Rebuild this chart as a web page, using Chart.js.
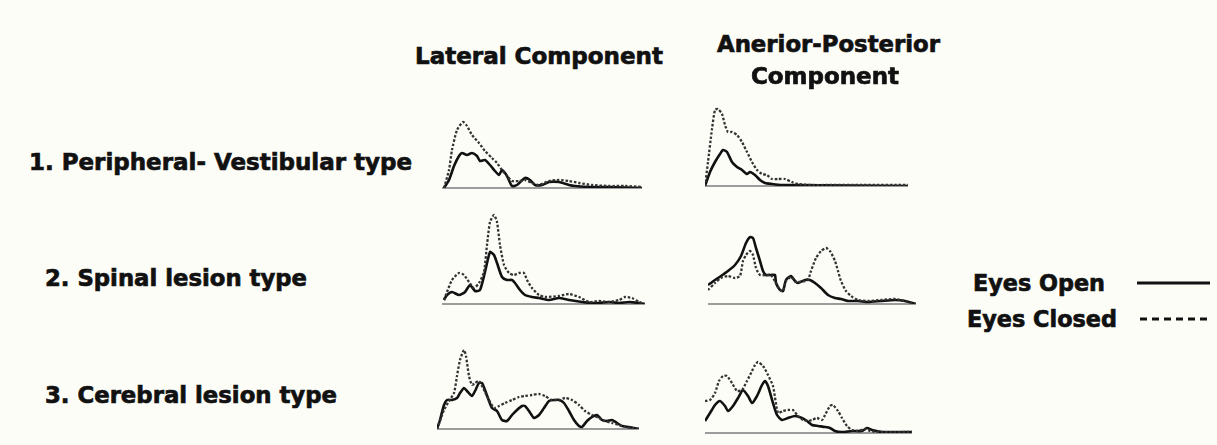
<!DOCTYPE html>
<html>
<head>
<meta charset="utf-8">
<script src="https://cdn.jsdelivr.net/npm/chart.js@4.4.1/dist/chart.umd.min.js"></script>
<style>
  html, body { margin: 0; padding: 0; background: #fdfdf8; }
  #stage { position: relative; width: 1217px; height: 445px; overflow: hidden; background: #fdfdf8; }
  .lbl { position: absolute; white-space: nowrap; font-family: "DejaVu Sans", sans-serif; font-weight: bold;
         font-size: 23px; line-height: normal; color: #111; transform-origin: 0 0;
         -webkit-text-stroke: 0.7px #111; }
  canvas.panel { position: absolute; }
  svg.key { position: absolute; }
</style>
</head>
<body>
<div id="stage"></div>
<script>
// Sway spectra: [frequency, amplitude] pairs for each component and lesion type
const lateralPeripheralOpen = [[2,0],[7,8],[12,22],[17,32],[20,35],[25,33],[30,35],[35,32],[38,27],[43,28],[48,23],[53,17],[57,13],[60,18],[65,12],[70,2],[75,3],[83,10],[88,8],[93,3],[100,3],[107,6],[117,6],[127,3],[133,2],[150,1],[167,1],[200,0]];
const lateralPeripheralClosed = [[2,0],[7,18],[10,38],[15,58],[21,66],[25,62],[30,53],[37,45],[43,37],[50,30],[55,25],[60,18],[65,12],[70,7],[77,7],[83,8],[90,5],[97,3],[107,7],[117,8],[127,7],[137,5],[150,3],[167,2],[183,2],[200,1]];

const apPeripheralOpen = [[0,0],[5,14],[10,24],[15,32],[18,36],[22,34],[27,24],[32,19],[37,16],[42,12],[45,14],[50,11],[55,6],[60,3],[67,2],[77,1],[90,1],[203,0]];
const apPeripheralClosed = [[0,0],[3,24],[7,57],[10,76],[13,77],[17,72],[20,61],[23,54],[27,54],[32,51],[37,44],[42,34],[47,24],[52,16],[57,12],[62,11],[67,7],[73,7],[80,7],[87,4],[93,2],[107,1],[123,1],[157,1],[203,1]];

const lateralSpinalOpen = [[2,4],[5,9],[10,12],[17,9],[23,12],[28,19],[33,13],[38,14],[43,32],[48,52],[52,49],[55,41],[60,27],[65,24],[70,24],[73,21],[78,14],[83,9],[90,7],[97,6],[107,4],[117,6],[127,4],[140,2],[150,1],[157,1],[167,2],[177,1],[187,2],[197,1],[203,0]];
const lateralSpinalClosed = [[2,4],[5,12],[10,24],[17,31],[22,29],[27,22],[32,16],[37,21],[42,32],[45,59],[48,82],[52,89],[55,82],[58,59],[62,39],[67,31],[72,29],[77,31],[82,31],[85,24],[90,16],[97,9],[103,7],[117,8],[127,10],[137,7],[147,2],[157,3],[167,2],[177,4],[183,7],[190,6],[197,2],[203,0]];

const apSpinalOpen = [[0,19],[7,24],[13,28],[20,33],[27,39],[33,48],[38,61],[42,67],[45,66],[48,56],[52,43],[55,33],[58,29],[63,29],[67,29],[68,21],[72,14],[75,13],[78,24],[83,28],[87,23],[90,21],[97,24],[102,24],[107,21],[113,16],[120,9],[127,6],[133,5],[140,3],[150,3],[160,2],[173,3],[187,4],[197,3],[208,0]];
const apSpinalClosed = [[0,14],[7,21],[13,26],[20,28],[27,26],[32,28],[35,43],[38,49],[42,53],[45,49],[48,36],[52,29],[58,29],[63,29],[68,21],[72,14],[75,13],[78,23],[83,27],[88,22],[97,23],[100,24],[103,33],[108,46],[113,53],[118,56],[122,53],[127,43],[130,33],[133,23],[138,13],[143,8],[150,4],[160,3],[173,4],[187,5],[197,3],[208,0]];

const lateralCerebralOpen = [[0,0],[3,9],[7,24],[10,29],[15,29],[20,31],[23,36],[27,41],[30,38],[35,33],[38,38],[42,46],[45,46],[48,39],[52,28],[55,21],[60,18],[65,9],[70,8],[75,14],[80,19],[85,23],[88,23],[92,18],[97,11],[102,14],[107,21],[112,28],[117,29],[122,29],[127,26],[132,18],[137,9],[142,3],[145,2],[150,8],[155,12],[160,14],[165,9],[170,8],[175,9],[180,6],[185,3],[192,2],[197,1],[202,0]];
const lateralCerebralClosed = [[0,0],[3,8],[7,19],[12,28],[17,36],[20,53],[23,69],[27,79],[29,73],[32,53],[35,44],[38,46],[42,48],[47,39],[52,29],[57,21],[62,23],[68,26],[75,29],[82,32],[88,33],[95,34],[102,35],[108,33],[115,29],[122,29],[128,31],[135,29],[142,24],[148,18],[155,14],[162,11],[168,8],[175,6],[182,4],[188,2],[195,1],[202,0]];

const apCerebralOpen = [[0,12],[5,20],[10,28],[15,32],[20,27],[23,22],[28,27],[33,35],[38,43],[43,37],[47,30],[52,37],[57,48],[60,52],[63,47],[68,30],[72,18],[77,13],[83,15],[90,17],[97,15],[102,12],[107,8],[113,7],[120,6],[125,5],[130,2],[137,1],[147,2],[157,2],[162,5],[167,3],[177,1],[190,1],[207,1]];
const apCerebralClosed = [[0,32],[5,33],[10,40],[14,52],[18,57],[22,57],[27,50],[32,42],[37,43],[42,52],[47,62],[50,68],[53,71],[58,67],[63,58],[68,47],[73,20],[78,22],[83,23],[88,23],[93,17],[98,13],[103,12],[107,13],[112,15],[117,13],[120,18],[125,27],[128,28],[133,22],[137,15],[142,7],[147,3],[153,2],[160,4],[165,2],[177,1],[207,1]];

// Text
const columnTitles = ["Lateral Component", "Anerior-Posterior", "Component"];
const rowTitles = ["1. Peripheral- Vestibular type", "2. Spinal lesion type", "3. Cerebral lesion type"];
const seriesNames = ["Eyes Open", "Eyes Closed"];

// Layout of the grid of small charts (px)
const PAD = 4;
const Y_MAX = 100;
const panels = [
  { open: lateralPeripheralOpen, closed: lateralPeripheralClosed, left: 442, base: 188, span: 200 },
  { open: apPeripheralOpen,      closed: apPeripheralClosed,      left: 705, base: 186, span: 203 },
  { open: lateralSpinalOpen,     closed: lateralSpinalClosed,     left: 442, base: 304, span: 203 },
  { open: apSpinalOpen,          closed: apSpinalClosed,          left: 708, base: 304, span: 208 },
  { open: lateralCerebralOpen,   closed: lateralCerebralClosed,   left: 437, base: 429, span: 202 },
  { open: apCerebralOpen,        closed: apCerebralClosed,        left: 705, base: 433, span: 207 }
];

// Label placement: text, left edge, baseline, rendered width
const labels = [
  { text: columnTitles[0], left: 415, base: 64,  width: 248 },
  { text: columnTitles[1], left: 717, base: 52,  width: 223 },
  { text: columnTitles[2], left: 751, base: 84,  width: 148 },
  { text: rowTitles[0],    left: 29,  base: 170, width: 383 },
  { text: rowTitles[1],    left: 45,  base: 286, width: 262 },
  { text: rowTitles[2],    left: 45,  base: 403, width: 292 },
  { text: seriesNames[0],  left: 973, base: 291, width: 132 },
  { text: seriesNames[1],  left: 967, base: 327, width: 150 }
];

const stage = document.getElementById('stage');

// Baseline under each trace, drawn through the chart's own scales
const baselinePlugin = {
  id: 'baseline',
  beforeDatasetsDraw(chart) {
    const { ctx, scales: { x, y } } = chart;
    ctx.save();
    ctx.strokeStyle = '#9c9c9c';
    ctx.lineWidth = 2;
    ctx.beginPath();
    ctx.moveTo(x.getPixelForValue(x.min), y.getPixelForValue(0));
    ctx.lineTo(x.getPixelForValue(x.max), y.getPixelForValue(0));
    ctx.stroke();
    ctx.restore();
  }
};

const toXY = arr => arr.map(p => ({ x: p[0], y: p[1] }));

panels.forEach(p => {
  const c = document.createElement('canvas');
  c.className = 'panel';
  const w = p.span + 2 * PAD, h = Y_MAX + 2 * PAD;
  c.width = w; c.height = h;
  c.style.width = w + 'px'; c.style.height = h + 'px';
  c.style.left = (p.left - PAD) + 'px';
  c.style.top = (p.base - Y_MAX - PAD) + 'px';
  stage.appendChild(c);
  new Chart(c, {
    type: 'line',
    data: {
      datasets: [
        { label: seriesNames[1], data: toXY(p.closed), borderColor: '#333', borderWidth: 2.3,
          borderDash: [2.5, 1.8], pointRadius: 0, tension: 0.2, fill: false },
        { label: seriesNames[0], data: toXY(p.open), borderColor: '#111', borderWidth: 2.6,
          pointRadius: 0, tension: 0.2, fill: false }
      ]
    },
    options: {
      responsive: false,
      animation: false,
      events: [],
      layout: { padding: PAD },
      plugins: { legend: { display: false }, tooltip: { enabled: false }, title: { display: false } },
      scales: {
        x: { type: 'linear', min: 0, max: p.span, display: false },
        y: { type: 'linear', min: 0, max: Y_MAX, display: false }
      }
    },
    plugins: [baselinePlugin]
  });
});

// Text labels, stretched to their widths
labels.forEach(l => {
  const d = document.createElement('div');
  d.className = 'lbl';
  d.textContent = l.text;
  stage.appendChild(d);
  const fs = 23;
  const ascent = 0.928 * fs;
  d.style.left = l.left + 'px';
  d.style.top = (l.base - ascent) + 'px';
  const natural = d.getBoundingClientRect().width;
  d.style.transform = 'scaleX(' + (l.width / natural) + ')';
});

// Legend keys
function key(x1, x2, y, dash) {
  const ns = 'http://www.w3.org/2000/svg';
  const s = document.createElementNS(ns, 'svg');
  s.setAttribute('class', 'key');
  s.setAttribute('width', x2 - x1);
  s.setAttribute('height', 6);
  s.style.left = x1 + 'px';
  s.style.top = (y - 3) + 'px';
  const ln = document.createElementNS(ns, 'line');
  ln.setAttribute('x1', 0); ln.setAttribute('x2', x2 - x1);
  ln.setAttribute('y1', 3); ln.setAttribute('y2', 3);
  ln.setAttribute('stroke', '#111');
  ln.setAttribute('stroke-width', 3);
  if (dash) ln.setAttribute('stroke-dasharray', dash);
  s.appendChild(ln);
  stage.appendChild(s);
}
key(1137, 1210, 283, null);
key(1140, 1210, 319, '7 5');
</script>
</body>
</html>
